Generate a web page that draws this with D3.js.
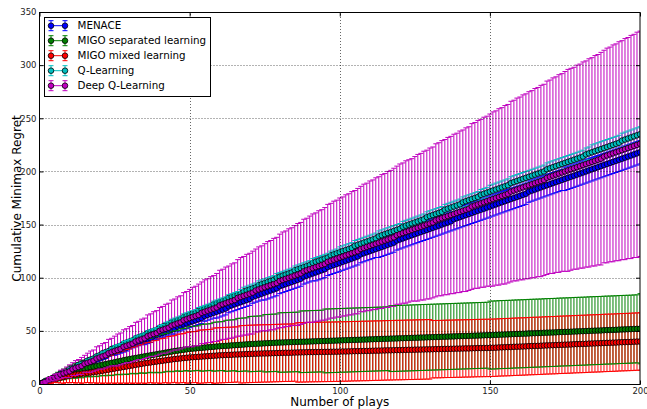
<!DOCTYPE html>
<html>
<head>
<meta charset="utf-8">
<script src="https://cdn.jsdelivr.net/npm/d3@7"></script>
<style>
  body { margin: 0; background: #fff; }
  text { font-family: "DejaVu Sans", sans-serif; }
</style>
</head>
<body>
<div id="chart"></div>
<script>
// number of plays 0..200
const plays = d3.range(0, 201)

const xTicks = [0, 50, 100, 150, 200]
const yTicks = [0, 50, 100, 150, 200, 250, 300, 350]

const labels = ["MENACE", "MIGO separated learning", "MIGO mixed learning", "Q-Learning", "Deep Q-Learning"]

// MENACE
const menaceMean = [
  0,1,2,4,5,6,7,8,10,11,12,13,14,16,17,18,19,20,22,23,24,25,26,28,29,30,
  31,32,33,34,36,37,38,39,40,41,42,43,45,46,47,48,49,50,51,52,54,55,56,57,58,
  59,60,61,62,64,65,66,67,68,69,70,71,73,74,75,76,77,78,79,80,82,83,84,85,86,
  87,88,89,90,92,93,94,95,96,97,98,99,101,102,103,104,105,106,107,108,110,111,112,113,114,
  115,116,117,118,119,120,122,123,124,125,126,127,128,129,130,131,132,133,135,136,137,138,139,140,141,
  142,143,144,145,146,147,148,149,150,151,152,153,155,156,157,158,159,160,161,162,163,164,165,166,167,
  168,169,170,171,172,173,174,175,176,177,178,179,181,182,183,184,185,186,187,188,189,190,191,192,193,
  194,195,196,197,198,199,200,201,202,203,204,205,206,207,208,209,210,211,212,213,214,215,216,217,218
]
const menaceErr = [
  0,0,0,0,0,
  1,1,1,1,1,1,1,1,1,1,
  2,2,2,2,2,2,2,2,2,2,
  3,3,3,3,3,3,3,3,3,3,
  4,4,4,4,4,4,4,4,4,4,
  5,5,5,5,5,5,5,5,5,5,5,5,5,5,
  6,6,6,6,6,6,6,6,6,6,6,6,6,6,6,6,
  7,7,7,7,7,7,7,7,7,7,7,7,7,7,7,7,7,
  8,8,8,8,8,8,8,8,8,8,8,8,8,8,8,8,8,8,8,8,8,
  9,9,9,9,9,9,9,9,9,9,9,9,9,9,9,9,9,9,9,9,9,9,9,9,9,
  10,10,10,10,10,10,10,10,10,10,10,10,10,10,10,10,10,10,10,10,10,10,10,10,10,10,10,10,10,10,10,10,10,10,10,10,10,
  11,11,11,11,11,11,11,11,11,11,11,11,11,11,11,11,11,11,11,11,11,11,11,11,11,11
]

// MIGO separated learning
const sepMean = [
  0,1.2,2.4,3.6,4.8,6,
  7,8,9,10,11,
  11.7,12.4,13.1,13.8,14.5,
  15.1,15.7,16.3,16.9,17.5,
  18.1,18.7,19.3,19.9,20.5,
  21.1,21.7,22.3,22.9,23.5,
  24,24.5,25,25.5,26,
  26.5,27,27.5,28,28.5,
  29,29.5,30,30.5,31,
  31.4,31.8,32.2,32.6,33,
  33.3,33.5,33.8,34,34.3,34.5,34.8,35,35.3,35.5,
  35.7,35.9,36.1,36.3,36.5,36.7,36.9,37.1,37.3,37.5,
  37.7,37.8,38,38.1,38.3,38.4,38.6,38.7,38.9,39,
  39.1,39.2,39.3,39.4,39.5,39.6,39.7,39.8,39.9,40,
  40.1,40.2,40.3,40.4,40.5,40.6,40.7,40.8,40.9,41,
  41.1,41.2,41.3,41.4,41.5,41.6,41.7,41.8,41.9,42,42.1,42.2,42.3,42.4,42.5,42.6,42.7,42.8,42.9,43,43.1,43.2,43.3,43.4,43.5,
  43.6,43.7,43.8,43.9,44,44.1,44.2,44.3,44.4,44.5,44.6,44.7,44.8,44.9,45,45.1,45.2,45.3,45.4,45.5,45.6,45.7,45.8,45.9,46,
  46.1,46.2,46.4,46.5,46.6,46.7,46.8,47,47.1,47.2,47.3,47.4,47.6,47.7,47.8,47.9,48,48.2,48.3,48.4,48.5,48.6,48.8,48.9,49,
  49.1,49.2,49.4,49.5,49.6,49.7,49.8,50,50.1,50.2,50.3,50.4,50.6,50.7,50.8,50.9,51,51.2,51.3,51.4,51.5,51.6,51.8,51.9,52
]
const sepErr = [
  0,1,1,2,2,3,4,4,5,5,6,
  6,7,7,8,8,8,9,9,10,10,
  10,11,11,12,12,12,13,13,14,14,
  14,15,15,15,16,16,16,17,17,18,
  18,18,18,19,19,19,20,20,20,21,
  21,21,21,22,22,22,22,23,23,23,
  23,24,24,24,24,25,25,25,25,26,
  26,26,26,26,27,27,27,27,27,28,
  28,28,28,28,28,28,29,29,29,29,
  29,29,29,29,30,30,30,30,30,30,
  30,30,30,30,30,30,30,30,30,30,30,30,30,30,30,30,
  31,31,31,31,31,31,31,31,31,31,31,31,31,31,31,31,31,31,31,31,31,31,31,31,31,31,31,31,31,31,31,31,31,
  32,32,32,32,32,32,32,32,32,32,32,32,32,32,32,32,32,32,32,32,32,32,32,32,32,
  32,32,32,32,32,32,32,32,32,32,32,32,32,32,32,32,32,32,32,32,32,32,32,32,32,
  33
]

// MIGO mixed learning
const mixMean = [
  0,0.9,1.8,2.7,3.6,4.5,
  5.2,5.9,6.6,7.3,8,
  8.4,8.8,9.2,9.6,10,
  10.4,10.8,11.2,11.6,12,
  12.5,13,13.5,14,14.5,
  15,15.5,16,16.5,17,
  17.5,18,18.5,19,19.5,
  19.9,20.3,20.7,21.1,21.5,
  21.9,22.3,22.7,23.1,23.5,
  23.8,24.1,24.4,24.7,25,
  25.2,25.4,25.6,25.8,26,26.2,26.4,26.6,26.8,27,
  27.1,27.3,27.4,27.5,27.7,27.8,27.9,28,28.2,28.3,
  28.4,28.5,28.6,28.7,28.8,28.8,28.9,29,29.1,29.2,
  29.3,29.4,29.4,29.5,29.6,29.7,29.8,29.8,29.9,30,
  30,30.1,30.1,30.2,30.2,30.3,30.3,30.4,30.4,30.5,
  30.6,30.6,30.7,30.8,30.9,30.9,31,31.1,31.1,31.2,31.3,31.4,31.4,31.5,31.6,31.7,31.7,31.8,31.9,31.9,32,32.1,32.2,32.2,32.3,
  32.4,32.4,32.5,32.6,32.6,32.7,32.8,32.8,32.9,33,33.1,33.1,33.2,33.3,33.3,33.4,33.5,33.5,33.6,33.7,33.8,33.8,33.9,33.9,34,
  34.1,34.2,34.4,34.5,34.6,34.7,34.8,35,35.1,35.2,35.3,35.4,35.6,35.7,35.8,35.9,36,36.2,36.3,36.4,36.5,36.6,36.8,36.9,37,
  37.1,37.2,37.4,37.5,37.6,37.7,37.8,38,38.1,38.2,38.3,38.4,38.6,38.7,38.8,38.9,39,39.2,39.3,39.4,39.5,39.6,39.8,39.9,40
]
const mixErr = [
  0,0,1,2,3,3,4,5,6,6,7,
  7,8,8,9,9,9,10,10,11,11,
  12,12,13,13,14,14,15,15,16,16,
  17,17,18,18,19,19,19,20,20,21,
  21,21,22,22,22,23,23,23,24,24,
  24,24,25,25,25,25,25,26,26,26,
  26,26,26,26,26,26,27,27,27,27,
  27,27,27,27,27,27,27,27,27,27,
  27,27,27,27,27,28,28,28,28,28,
  28,28,28,28,28,28,28,28,28,28,28,28,28,28,28,28,28,28,28,28,
  28,28,28,28,28,28,28,28,28,28,28,28,28,28,28,28,28,28,28,28,
  27,27,27,27,27,27,27,27,27,27,27,27,27,27,27,27,27,27,27,27,27,27,27,27,27,27,27,27,27,27,27,27,27,27,27,
  27,27,27,27,27,27,27,27,27,27,27,27,27,27,27,27,27,27,27,27,27,27,27,27,27,27,27,27,27,27,27,27,27,27,27
]

// Q-Learning
const qMean = [
  0,1,3,4,5,7,8,10,11,12,14,15,16,18,19,20,22,23,24,26,27,29,30,31,33,34,
  35,36,38,39,40,41,43,44,45,46,48,49,50,51,53,54,55,56,58,59,60,61,63,64,65,
  66,67,69,70,71,72,73,75,76,77,78,79,81,82,83,84,85,87,88,89,90,91,93,94,95,
  96,97,98,100,101,102,103,104,105,107,108,109,110,111,112,114,115,116,117,118,119,121,122,123,124,
  125,126,127,128,130,131,132,133,134,135,136,137,139,140,141,142,143,144,145,146,148,149,150,151,152,
  153,154,155,157,158,159,160,161,162,164,165,166,167,168,169,171,172,173,174,175,176,178,179,180,181,
  182,183,184,185,186,187,189,190,191,192,193,194,195,196,197,198,199,200,202,203,204,205,206,207,208,
  209,210,211,212,213,214,216,217,218,219,220,221,222,223,224,225,226,227,229,230,231,232,233,234,235
]
const qErr = [
  0,0,0,0,0,0,0,0,0,
  1,1,1,1,1,1,1,1,1,1,1,1,1,1,1,1,
  2,2,2,2,2,2,2,2,2,2,2,2,2,2,2,2,2,
  3,3,3,3,3,3,3,3,3,3,3,3,3,3,3,3,3,3,3,3,3,3,3,3,3,
  4,4,4,4,4,4,4,4,4,4,4,4,4,4,4,4,4,4,4,4,4,4,4,4,4,4,4,4,4,4,4,4,4,
  5,5,5,5,5,5,5,5,5,5,5,5,5,5,5,5,5,5,5,5,5,5,5,5,5,
  5,5,5,5,5,5,5,5,5,5,5,5,5,5,5,5,5,5,5,5,5,5,5,5,5,
  6,6,6,6,6,6,6,6,6,6,6,6,6,6,6,6,6,6,6,6,6,6,6,6,6,6,6,6,6,6,6,6,6,6,
  7,7,7,7,7,7,7,7,7,7,7,7,7,7,7,7,7
]

// Deep Q-Learning
const deepMean = [
  0,1,2,4,5,6,7,9,10,11,12,14,15,16,17,19,20,21,22,24,25,26,27,29,30,31,
  32,33,35,36,37,38,40,41,42,43,45,46,47,48,50,51,52,53,55,56,57,58,60,61,62,
  63,64,65,67,68,69,70,71,72,74,75,76,77,78,79,81,82,83,84,85,86,88,89,90,91,
  92,93,94,95,97,98,99,100,101,102,103,104,106,107,108,109,110,111,112,113,115,116,117,118,119,
  120,121,122,123,124,125,127,128,129,130,131,132,133,134,135,136,137,138,140,141,142,143,144,145,146,
  147,148,149,150,151,152,154,155,156,157,158,159,160,161,162,163,164,165,167,168,169,170,171,172,173,
  174,175,176,177,178,179,181,182,183,184,185,186,187,188,189,190,191,192,194,195,196,197,198,199,200,
  201,202,203,204,205,206,207,208,209,210,211,212,214,215,216,217,218,219,220,221,222,223,224,225,226
]
const deepErr = [
  0,1,1,2,2,3,3,4,4,5,6,6,7,7,8,8,9,10,10,11,11,12,12,13,13,14,
  15,15,16,16,17,17,18,18,19,19,20,20,21,21,22,22,23,23,24,24,25,25,26,26,27,
  28,28,29,29,30,30,31,31,32,33,33,34,34,35,35,36,37,37,38,38,39,39,40,40,41,
  42,42,43,43,44,45,45,46,46,47,48,48,49,49,50,51,51,52,52,53,54,54,55,55,56,
  56,57,57,58,58,59,59,60,60,61,61,62,62,63,63,64,64,65,65,66,66,67,67,67,68,
  69,69,70,70,71,71,72,72,73,73,74,74,75,75,76,76,77,77,78,78,79,79,80,80,81,
  82,82,83,83,84,84,85,85,86,86,87,87,88,88,89,89,90,90,91,91,92,92,93,93,94,
  95,95,95,96,96,97,97,98,98,99,99,100,100,101,101,102,102,103,103,104,104,105,105,106,106
]

const series = [
  { name: labels[0], color: "#0000ff", mean: menaceMean, err: menaceErr },
  { name: labels[1], color: "#008000", mean: sepMean, err: sepErr },
  { name: labels[2], color: "#ff0000", mean: mixMean, err: mixErr },
  { name: labels[3], color: "#00bfbf", mean: qMean, err: qErr },
  { name: labels[4], color: "#bf00bf", mean: deepMean, err: deepErr }
]

const W = 647, H = 409
const margin = { top: 12, right: 7, bottom: 25, left: 39.5 }

const x = d3.scaleLinear().domain([0, 200]).range([margin.left, W - margin.right])
const y = d3.scaleLinear().domain([0, 350]).range([H - margin.bottom, margin.top])

const svg = d3.select("#chart").append("svg")
  .attr("width", W)
  .attr("height", H)

svg.append("rect").attr("width", W).attr("height", H).attr("fill", "#fff")

svg.append("defs").append("clipPath").attr("id", "plotclip")
  .append("rect")
    .attr("x", x(0)).attr("y", y(350))
    .attr("width", x(200) - x(0)).attr("height", y(0) - y(350))

const plot = svg.append("g").attr("clip-path", "url(#plotclip)")

// vertical error bars of every series first (like matplotlib's collections)
series.forEach(s => {
  plot.append("g")
    .selectAll("line")
    .data(plays)
    .enter()
    .append("line")
      .attr("x1", i => x(i))
      .attr("x2", i => x(i))
      .attr("y1", i => y(s.mean[i] - s.err[i]))
      .attr("y2", i => y(s.mean[i] + s.err[i]))
      .attr("stroke", s.color)
      .attr("stroke-width", 1)
})

const cap = 2.5
series.forEach(s => {
  const g = plot.append("g")
  g.append("path")
    .datum(plays)
    .attr("fill", "none")
    .attr("stroke", s.color)
    .attr("stroke-width", 1)
    .attr("d", d3.line().x(i => x(i)).y(i => y(s.mean[i])))
  g.selectAll("circle")
    .data(plays)
    .enter()
    .append("circle")
      .attr("cx", i => x(i))
      .attr("cy", i => y(s.mean[i]))
      .attr("r", 2.8)
      .attr("fill", s.color)
      .attr("stroke", "#000")
      .attr("stroke-width", 0.8)
  ;[-1, 1].forEach(sign => {
    g.append("g")
      .selectAll("line")
      .data(plays)
      .enter()
      .append("line")
        .attr("x1", i => x(i) - cap)
        .attr("x2", i => x(i) + cap)
        .attr("y1", i => y(s.mean[i] + sign * s.err[i]))
        .attr("y2", i => y(s.mean[i] + sign * s.err[i]))
        .attr("stroke", s.color)
        .attr("stroke-width", 1)
  })
})

// grid on top of the data (classic style)
const grid = svg.append("g")
  .attr("stroke", "#000")
  .attr("stroke-width", 0.6)
  .attr("stroke-dasharray", "1,2")
grid.selectAll("line.gx")
  .data(xTicks.slice(1, -1))
  .enter().append("line")
    .attr("x1", d => Math.round(x(d)) + 0.5).attr("x2", d => Math.round(x(d)) + 0.5)
    .attr("y1", y(0)).attr("y2", y(350))
grid.selectAll("line.gy")
  .data(yTicks.slice(1, -1))
  .enter().append("line")
    .attr("y1", d => Math.round(y(d)) + 0.5).attr("y2", d => Math.round(y(d)) + 0.5)
    .attr("x1", x(0)).attr("x2", x(200))

// axes: inward ticks on all sides
const tickLen = 4
const xLeft = x(0), xRight = x(200), yTop = y(350) + 0.5, yBottom = y(0) + 0.5

const bottomAxis = svg.append("g")
  .attr("transform", `translate(0,${yBottom})`)
  .call(d3.axisBottom(x).tickValues(xTicks).tickSize(-tickLen).tickPadding(3).tickFormat(d3.format("d")))
const topAxis = svg.append("g")
  .attr("transform", `translate(0,${yTop})`)
  .call(d3.axisTop(x).tickValues(xTicks).tickSize(-tickLen).tickFormat(""))
const leftAxis = svg.append("g")
  .attr("transform", `translate(${xLeft},0)`)
  .call(d3.axisLeft(y).tickValues(yTicks).tickSize(-tickLen).tickPadding(3).tickFormat(d3.format("d")))
const rightAxis = svg.append("g")
  .attr("transform", `translate(${xRight},0)`)
  .call(d3.axisRight(y).tickValues(yTicks).tickSize(-tickLen).tickFormat(""))

;[bottomAxis, topAxis, leftAxis, rightAxis].forEach(a => {
  a.select(".domain").remove()
  a.selectAll(".tick line").attr("stroke", "#000").attr("stroke-width", 1)
  a.selectAll(".tick text")
    .attr("fill", "#222")
    .style("font-size", "8.5px")
    .style("font-family", "'DejaVu Sans', sans-serif")
})
bottomAxis.selectAll(".tick text").attr("y", 3)
leftAxis.selectAll(".tick text").attr("x", -3)

// frame
svg.append("rect")
  .attr("x", xLeft).attr("y", yTop)
  .attr("width", xRight - xLeft).attr("height", yBottom - yTop)
  .attr("fill", "none")
  .attr("stroke", "#000")
  .attr("stroke-width", 1)

// axis labels
svg.append("text")
  .attr("x", (xLeft + xRight) / 2)
  .attr("y", 406)
  .attr("text-anchor", "middle")
  .style("font-size", "12px")
  .text("Number of plays")

svg.append("text")
  .attr("transform", `translate(21,${(yTop + yBottom) / 2}) rotate(-90)`)
  .attr("text-anchor", "middle")
  .style("font-size", "12px")
  .text("Cumulative Minimax Regret")

// legend
const legend = svg.append("g")
legend.append("rect")
  .attr("x", 44.5).attr("y", 17.5)
  .attr("width", 166).attr("height", 79)
  .attr("fill", "#fff")
  .attr("stroke", "#000")
  .attr("stroke-width", 1)

series.forEach((s, k) => {
  const cy = 25.7 + k * 15
  const row = legend.append("g")
  const hx = [51, 65]
  hx.forEach(hxv => {
    row.append("line")
      .attr("x1", hxv).attr("x2", hxv).attr("y1", cy - 5).attr("y2", cy + 5)
      .attr("stroke", s.color).attr("stroke-width", 1)
    ;[-5, 5].forEach(o => {
      row.append("line")
        .attr("x1", hxv - cap).attr("x2", hxv + cap).attr("y1", cy + o).attr("y2", cy + o)
        .attr("stroke", s.color).attr("stroke-width", 1)
    })
  })
  row.append("line")
    .attr("x1", hx[0]).attr("x2", hx[1]).attr("y1", cy).attr("y2", cy)
    .attr("stroke", s.color).attr("stroke-width", 1)
  hx.forEach(hxv => {
    row.append("circle")
      .attr("cx", hxv).attr("cy", cy).attr("r", 2.8)
      .attr("fill", s.color).attr("stroke", "#000").attr("stroke-width", 0.8)
  })
  row.append("text")
    .attr("x", 77.5).attr("y", cy).attr("dy", "0.35em")
    .style("font-size", "10.3px")
    .text(s.name)
})

series.forEach(s => {
  if (s.mean.length !== plays.length || s.err.length !== plays.length)
    throw new Error(s.name + " length " + s.mean.length + "/" + s.err.length)
})
</script>
</body>
</html>
